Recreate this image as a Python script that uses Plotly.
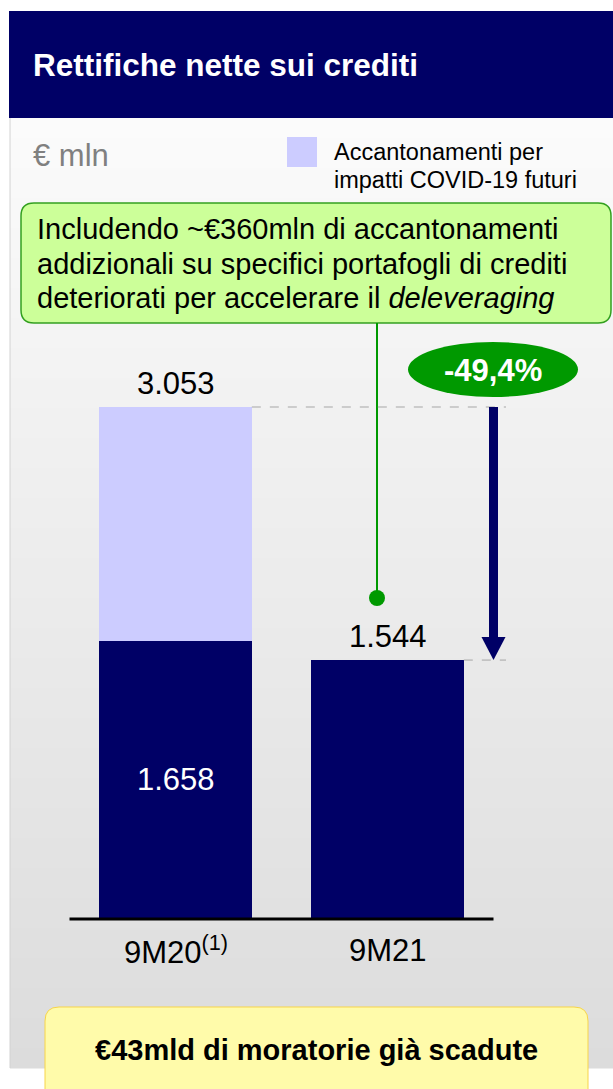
import plotly.graph_objects as go

# ---- data (€ mln) ----
categories = ["9M20", "9M21"]
category_labels = ["9M20<sup>(1)</sup>", "9M21"]
core_provisions = [1658, 1544]
covid_provisions = [1395, None]
totals = [3053, 1544]

NAVY = "#000066"
LAVENDER = "#ccccff"
GREEN = "#009900"
FONT = "Arial, 'Liberation Sans', sans-serif"

W, H = 613, 1089
# pixel geometry of the chart area
X_CENTER0 = 175.5          # pixel x of first category
PX_PER_CAT = 212.0         # pixels between categories
BASE_PX = 919.0            # pixel y of the zero line
PX_PER_MLN = 512.0 / 3053  # vertical scale
BAR_WIDTH = 0.72


def xd(px):
    return (px - X_CENTER0) / PX_PER_CAT


def yd(py):
    return (BASE_PX - py) / PX_PER_MLN


def xp(px):
    return px / W


def yp(py):
    return 1 - py / H


def fmt(v):
    return f"{v:,}".replace(",", ".")


def rounded_rect(x0, y0, x1, y1, r):
    pts = [
        ("M", x0 + r, y0), ("L", x1 - r, y0), ("Q", x1, y0, x1, y0 + r),
        ("L", x1, y1 - r), ("Q", x1, y1, x1 - r, y1), ("L", x0 + r, y1),
        ("Q", x0, y1, x0, y1 - r), ("L", x0, y0 + r), ("Q", x0, y0, x0 + r, y0),
    ]
    out = []
    for p in pts:
        cmd = p[0]
        coords = p[1:]
        s = []
        for i in range(0, len(coords), 2):
            s.append(f"{xp(coords[i]):.5f},{yp(coords[i + 1]):.5f}")
        out.append(cmd + " " + " ".join(s))
    return " ".join(out) + " Z"


fig = go.Figure()
xs = list(range(len(categories)))
fig.add_trace(go.Bar(x=xs, y=core_provisions, width=BAR_WIDTH,
                     marker=dict(color=NAVY, line=dict(width=0)),
                     name="Rettifiche", hoverinfo="skip"))
fig.add_trace(go.Bar(x=xs, y=covid_provisions, width=BAR_WIDTH,
                     marker=dict(color=LAVENDER, line=dict(width=0)),
                     name="Accantonamenti per impatti COVID-19 futuri",
                     hoverinfo="skip"))

shapes = []
# background panel with vertical gradient
top, bottom = 118, 1068
n = 95
step = (bottom - top) / n
for i in range(n):
    t = (i + 0.5) / n
    c = round(251 - (251 - 220) * t)
    shapes.append(dict(type="rect", xref="paper", yref="paper",
                       x0=xp(10), x1=xp(W + 2), y0=yp(top + i * step),
                       y1=yp(top + (i + 1) * step + 0.6),
                       fillcolor=f"rgb({c},{c},{c})", line=dict(width=0),
                       layer="below"))
shapes.append(dict(type="line", xref="paper", yref="paper",
                   x0=xp(10), x1=xp(10), y0=yp(118), y1=yp(1068),
                   line=dict(color="#d2d2d2", width=1), layer="below"))
# header band
shapes.append(dict(type="rect", xref="paper", yref="paper",
                   x0=xp(9), x1=xp(W + 2), y0=yp(11), y1=yp(118),
                   fillcolor=NAVY, line=dict(width=0), layer="below"))
# legend swatch
shapes.append(dict(type="rect", xref="paper", yref="paper",
                   x0=xp(287), x1=xp(317), y0=yp(137), y1=yp(167),
                   fillcolor=LAVENDER, line=dict(width=0)))
# callout box and pointer
shapes.append(dict(type="path", xref="paper", yref="paper",
                   path=rounded_rect(21, 203, 611, 323, 13),
                   fillcolor="#ccff99", line=dict(color="#33a020", width=1.5)))
shapes.append(dict(type="line", xref="paper", yref="paper",
                   x0=xp(377), x1=xp(377), y0=yp(323), y1=yp(598),
                   line=dict(color=GREEN, width=2)))
shapes.append(dict(type="circle", xref="paper", yref="paper",
                   x0=xp(369), x1=xp(385), y0=yp(590), y1=yp(606),
                   fillcolor=GREEN, line=dict(width=0)))
# change badge
shapes.append(dict(type="circle", xref="paper", yref="paper",
                   x0=xp(408), x1=xp(578), y0=yp(342), y1=yp(397),
                   fillcolor=GREEN, line=dict(width=0)))
# reference dashed lines at both totals
x_end = xd(506)
for i, v in enumerate(totals):
    shapes.append(dict(type="line", xref="x", yref="y",
                       x0=i + BAR_WIDTH / 2, x1=x_end, y0=v, y1=v,
                       line=dict(color="#a6a6a6", width=1, dash="dash")))
# decline arrow
arrow_x = 1.5
head_len = 23 / PX_PER_MLN
head_hw = 12 / PX_PER_CAT
shapes.append(dict(type="line", xref="x", yref="y",
                   x0=arrow_x, x1=arrow_x, y0=totals[0], y1=totals[1] + head_len,
                   line=dict(color=NAVY, width=9)))
shapes.append(dict(type="path", xref="x", yref="y",
                   path=(f"M {arrow_x - head_hw},{totals[1] + head_len} "
                         f"L {arrow_x + head_hw},{totals[1] + head_len} "
                         f"L {arrow_x},{totals[1]} Z"),
                   fillcolor=NAVY, line=dict(width=0)))
# category axis line
shapes.append(dict(type="line", xref="x", yref="y",
                   x0=-0.5, x1=1.5, y0=0, y1=0,
                   line=dict(color="black", width=3)))
# footer box
shapes.append(dict(type="path", xref="paper", yref="paper",
                   path=rounded_rect(45, 1007, 588, 1110, 14),
                   fillcolor="#fffbaa", line=dict(color="#f7d44a", width=1)))

annotations = []


def note(x, y, text, size, color="black", bold=False, xanchor="left",
         yanchor="middle", xref="paper", yref="paper", **kw):
    if bold:
        text = f"<b>{text}</b>"
    annotations.append(dict(x=x, y=y, xref=xref, yref=yref, text=text,
                            showarrow=False, xanchor=xanchor, yanchor=yanchor,
                            font=dict(family=FONT, size=size, color=color), **kw))


note(xp(31), yp(65), "Rettifiche nette sui crediti", 31.5, "white", bold=True)
note(xp(31), yp(155), "€ mln", 31, "#808080")
note(xp(332), yp(152), "Accantonamenti per", 23.5)
note(xp(332), yp(180), "impatti COVID-19 futuri", 23.5)
callout = ["Includendo ~€360mln di accantonamenti",
           "addizionali su specifici portafogli di crediti",
           "deteriorati per accelerare il <i>deleveraging</i>"]
for k, line in enumerate(callout):
    note(xp(35), yp(229 + k * 34.5), line, 29)

change = (totals[1] - totals[0]) / totals[0] * 100
note(xp(493), yp(370), f"{change:.1f}%".replace(".", ","), 31, "white",
     bold=True, xanchor="center")

for i, v in enumerate(totals):
    note(i, v, fmt(v), 31, xanchor="center", yanchor="middle",
         xref="x", yref="y", yshift=24)
for i, (c, v) in enumerate(zip(core_provisions, covid_provisions)):
    if v:
        note(i, c / 2, fmt(c), 31, "white", xanchor="center",
             xref="x", yref="y")
for i, lab in enumerate(category_labels):
    note(i, 0, lab, 31, xanchor="center", xref="x", yref="y", yshift=-31)

note(xp(316), yp(1050), "€43mld di moratorie già scadute", 29, bold=True,
     xanchor="center")

fig.update_layout(
    width=W, height=H, margin=dict(l=0, r=0, t=0, b=0),
    paper_bgcolor="white", plot_bgcolor="rgba(0,0,0,0)",
    barmode="stack", bargap=0, showlegend=False,
    xaxis=dict(range=[xd(0), xd(W)], visible=False, fixedrange=True),
    yaxis=dict(range=[yd(H), yd(0)], visible=False, fixedrange=True),
    shapes=shapes, annotations=annotations,
    font=dict(family=FONT),
)

fig.write_html("out.html", config={"displayModeBar": False})
